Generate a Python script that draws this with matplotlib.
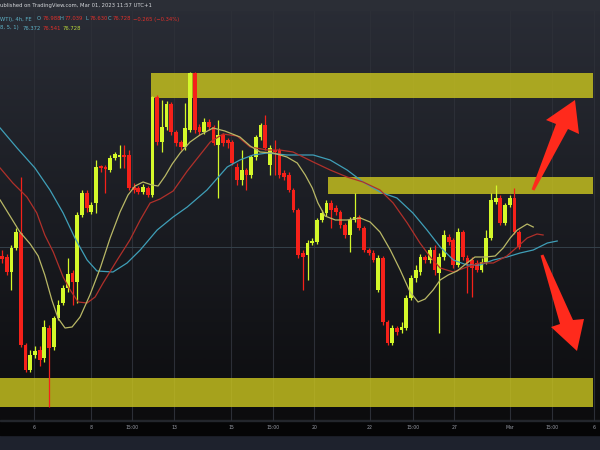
import numpy as np
import matplotlib.pyplot as plt
from matplotlib.patches import Rectangle, Polygon
from matplotlib.colors import LinearSegmentedColormap

# WTI crude, 4h candles (Feb 2023 -> Mar 01)
opens = [76.88, 76.86, 76.56, 77.04, 77.34, 75.10, 74.60, 74.90, 75.00, 74.84,
         75.44, 75.06, 75.64, 75.94, 76.24, 76.54, 76.36, 77.70, 78.14, 77.76,
         77.94, 78.66, 78.66, 78.60, 78.84, 78.86, 78.90, 78.90, 78.26, 78.24,
         78.16, 78.24, 78.10, 80.06, 79.16, 79.46, 79.92, 79.36, 79.16, 79.06,
         79.40, 80.54, 79.46, 79.36, 79.56, 79.46, 79.10, 79.30, 79.20, 79.16,
         78.66, 78.40, 78.60, 78.50, 78.86, 79.26, 79.50, 78.70, 79.00, 79.00,
         78.54, 78.50, 78.20, 77.80, 76.94, 76.90, 77.14, 77.16, 77.60, 77.74,
         77.94, 77.84, 77.76, 77.50, 77.30, 77.60, 77.66, 77.44, 77.00, 76.94,
         76.20, 76.84, 75.56, 75.14, 75.44, 75.40, 75.44, 76.04, 76.44, 76.56,
         76.86, 76.80, 77.00, 76.54, 76.86, 77.26, 77.20, 76.70, 77.36, 76.84,
         76.80, 76.74, 76.60, 76.76, 77.24, 77.96, 78.04, 77.54, 77.90, 78.04, 77.36]
highs = [77.00, 76.92, 77.10, 77.44, 78.46, 75.14, 75.00, 75.08, 75.08, 75.60,
         75.50, 75.68, 76.00, 76.30, 76.84, 76.60, 77.76, 78.20, 78.20, 77.96,
         78.80, 78.70, 78.70, 78.90, 78.96, 79.10, 79.10, 79.00, 78.34, 78.28,
         78.32, 78.28, 80.08, 80.10, 80.00, 79.98, 79.96, 79.40, 79.20, 79.94,
         80.56, 80.56, 79.52, 79.64, 79.62, 79.50, 79.60, 79.34, 79.24, 79.20,
         78.74, 79.00, 78.64, 78.90, 79.30, 79.54, 79.70, 79.10, 79.20, 79.04,
         78.60, 78.56, 78.24, 77.84, 77.00, 77.20, 77.24, 77.64, 77.80, 78.00,
         78.00, 77.90, 77.80, 77.54, 77.66, 78.14, 77.70, 77.48, 77.04, 77.00,
         76.90, 76.88, 75.60, 75.50, 75.48, 75.56, 76.10, 76.50, 76.70, 76.92,
         76.90, 77.06, 77.10, 76.94, 77.40, 77.32, 77.24, 77.44, 77.40, 76.90,
         76.86, 76.80, 76.84, 77.40, 78.14, 78.30, 78.10, 77.94, 78.10, 78.24, 77.40]
lows = [76.74, 76.50, 76.20, 77.00, 75.06, 74.56, 74.56, 74.84, 74.68, 74.76,
        73.86, 75.00, 75.60, 75.90, 76.16, 75.90, 75.94, 77.66, 77.76, 77.72,
        77.74, 78.56, 78.14, 78.56, 78.80, 78.64, 78.64, 78.20, 78.14, 78.12,
        78.12, 78.06, 78.06, 79.10, 78.96, 79.40, 79.30, 79.08, 79.00, 79.00,
        79.36, 79.34, 79.30, 79.32, 79.40, 79.10, 78.04, 79.08, 79.04, 78.70,
        78.30, 78.30, 78.20, 78.44, 78.80, 79.20, 79.00, 78.50, 78.50, 78.44,
        78.40, 78.16, 77.76, 76.84, 76.20, 76.40, 77.10, 77.12, 77.56, 77.68,
        77.44, 77.70, 77.44, 77.24, 76.96, 77.56, 77.40, 76.96, 76.90, 76.76,
        76.16, 75.50, 75.10, 75.10, 75.30, 75.34, 75.40, 76.00, 76.36, 76.50,
        76.74, 76.74, 76.50, 75.34, 76.80, 77.10, 76.64, 76.66, 76.80, 76.14,
        76.06, 76.56, 76.56, 76.72, 77.20, 77.92, 77.50, 77.50, 77.86, 77.32, 77.02]
closes = [76.82, 76.56, 77.04, 77.36, 75.10, 74.60, 74.90, 74.98, 74.80, 75.46,
          75.04, 75.64, 75.90, 76.24, 76.52, 76.36, 77.70, 78.14, 77.84, 77.90,
          78.66, 78.64, 78.62, 78.84, 78.92, 78.90, 78.86, 78.24, 78.20, 78.16,
          78.26, 78.10, 80.06, 79.16, 79.46, 79.92, 79.36, 79.14, 79.06, 79.44,
          80.54, 79.40, 79.36, 79.56, 79.46, 79.14, 79.30, 79.14, 79.14, 78.74,
          78.40, 78.60, 78.50, 78.86, 79.26, 79.50, 79.04, 79.04, 78.96, 78.50,
          78.46, 78.20, 77.80, 76.90, 76.86, 77.14, 77.16, 77.60, 77.74, 77.94,
          77.80, 77.76, 77.50, 77.30, 77.60, 77.66, 77.44, 77.00, 76.94, 76.80,
          76.84, 75.56, 75.14, 75.44, 75.36, 75.46, 76.04, 76.44, 76.60, 76.86,
          76.80, 77.00, 76.60, 76.86, 77.30, 77.16, 76.70, 77.36, 76.86, 76.74,
          76.64, 76.60, 76.76, 77.24, 78.00, 78.04, 77.54, 77.90, 78.04, 77.36, 77.06]

# moving averages, read at sample bars
ma_fast_x = [-0.4, 1.7, 3.8, 6.0, 7.7, 9.1, 10.6, 11.9, 13.4, 14.9, 16.6, 18.7, 20.9, 23.0,
             25.1, 26.8, 28.3, 30.0, 31.9, 33.2, 34.7, 36.2, 37.9, 40.0, 42.1, 44.9, 47.4,
             50.6, 52.8, 54.9, 57.7, 60.6, 62.8, 64.5, 66.0, 67.2, 68.7, 70.9, 73.4, 76.2,
             78.3, 80.4, 82.6, 84.7, 86.8, 88.5, 90.0, 91.7, 93.2, 94.9, 96.8, 98.9, 100.6,
             102.8, 104.9, 106.6, 108.1, 109.6, 111.7, 113.0]
ma_fast = [78.00, 77.68, 77.36, 77.12, 76.88, 76.50, 76.00, 75.64, 75.44, 75.46, 75.66, 76.10,
           76.64, 77.24, 77.76, 78.10, 78.28, 78.36, 78.30, 78.28, 78.48, 78.72, 78.94, 79.16,
           79.30, 79.44, 79.38, 79.26, 79.08, 78.96, 78.94, 78.86, 78.74, 78.50, 78.24, 77.94,
           77.68, 77.60, 77.60, 77.64, 77.56, 77.36, 77.00, 76.60, 76.16, 75.96, 76.02, 76.20,
           76.40, 76.50, 76.58, 76.74, 76.86, 76.86, 76.88, 77.04, 77.24, 77.40, 77.52, 77.46]
ma_mid_x = [-0.4, 2.3, 5.3, 7.4, 9.1, 10.9, 13.0, 14.5, 16.2, 18.1, 19.8, 21.5, 24.5, 27.2,
            29.4, 31.5, 33.6, 36.4, 39.4, 42.1, 44.3, 47.0, 50.0, 52.8, 56.4, 59.1, 61.9,
            66.2, 69.8, 73.4, 76.8, 80.4, 83.2, 86.2, 88.9, 91.1, 93.2, 96.0, 98.9, 101.7,
            104.5, 107.4, 109.6, 111.7, 113.8, 115.1]
ma_mid = [78.64, 78.34, 78.06, 77.74, 77.30, 76.96, 76.46, 76.20, 75.96, 75.94, 76.06, 76.34,
          76.80, 77.20, 77.60, 77.94, 78.02, 78.18, 78.58, 78.90, 79.16, 79.32, 79.28, 79.06,
          79.00, 79.00, 78.96, 78.76, 78.60, 78.46, 78.36, 78.20, 77.94, 77.54, 77.14, 76.86,
          76.64, 76.56, 76.66, 76.74, 76.74, 76.88, 77.06, 77.24, 77.32, 77.30]
ma_slow_x = [-0.4, 3.2, 7.0, 10.2, 13.0, 15.5, 18.1, 20.2, 23.6, 26.6, 29.4, 33.0, 36.4, 39.4,
             43.6, 47.9, 50.6, 53.4, 56.4, 60.6, 66.2, 69.8, 73.4, 76.8, 80.4, 84.0, 87.4,
             90.4, 93.2, 96.0, 98.9, 101.7, 104.5, 107.4, 110.2, 113.0, 116.0, 118.1]
ma_slow = [79.44, 79.04, 78.64, 78.20, 77.74, 77.24, 76.80, 76.58, 76.56, 76.74, 77.00, 77.40,
           77.66, 77.86, 78.20, 78.66, 78.80, 78.90, 78.94, 78.90, 78.90, 78.80, 78.60, 78.36,
           78.16, 78.04, 77.74, 77.40, 77.06, 76.80, 76.70, 76.70, 76.80, 76.86, 76.94, 77.00,
           77.14, 77.18]

# supply / demand zones
zone_lo = [80.04, 78.12, 73.86]
zone_hi = [80.54, 78.46, 74.44]
zone_start = [31.7, 69.4, -0.5]
zone_end = 125.7

tick_pos = [6.8, 18.9, 27.7, 36.6, 48.7, 57.7, 66.4, 78.3, 87.4, 96.2, 108.1, 117.0, 126.0]
tick_labels = ['6', '8', '15:00', '13', '15', '15:00', '20', '22', '15:00', '27', 'Mar', '15:00', '6']

W, H = 600, 450
plot_bottom = 421  # px from top

fig = plt.figure(figsize=(6, 4.5), dpi=100)
fig.patch.set_facecolor('#1e222d')

rect = [0, (H - plot_bottom) / H, 1, plot_bottom / H]
bg = fig.add_axes(rect, zorder=0)
grad = np.linspace(0, 1, 256).reshape(-1, 1)
cmap = LinearSegmentedColormap.from_list('bg', ['#2a2d36', '#1b1d23', '#0c0c0e'])
bg.imshow(grad, aspect='auto', cmap=cmap)
bg.axis('off')

ax = fig.add_axes(rect, zorder=1)
ax.set_facecolor('none')
ax.set_xlim(-0.43, 127.2)
ax.set_ylim(73.58, 82.0)
for s in ax.spines.values():
    s.set_visible(False)

for t in tick_pos:
    ax.axvline(t, color='#2c2f37', lw=0.8, zorder=1)
ax.axhline(closes[-1], color='#34414a', lw=0.7, zorder=1)

for lo, hi, st in zip(zone_lo, zone_hi, zone_start):
    ax.add_patch(Rectangle((st, lo), zone_end - st, hi - lo, facecolor='#c9c41f',
                           edgecolor='none', alpha=0.82, zorder=2))

x = np.arange(len(closes))
o = np.array(opens)
c = np.array(closes)
up = c >= o
cols = np.where(up, '#d4f82a', '#f5211a')
ax.vlines(x, lows, highs, colors=cols, lw=0.9, zorder=3)
body = np.maximum(np.abs(c - o), 0.03)
ax.bar(x, body, bottom=np.minimum(o, c), width=0.8, color=cols, zorder=3)

ax.plot(ma_slow_x, ma_slow, color='#3f9fb8', lw=0.9, zorder=4)
ax.plot(ma_mid_x, ma_mid, color='#b0302a', lw=0.9, zorder=4)
ax.plot(ma_fast_x, ma_fast, color='#b9b866', lw=0.9, zorder=4)

# red arrows, drawn in pixel space of the plot
def px(pts):
    return [(a / W, 1 - b / plot_bottom) for a, b in pts]

up_arrow = [(531.6, 189.4), (556, 124), (546, 120), (575, 100), (579, 134), (568, 129), (534.4, 190.6)]
down_arrow = [(540.6, 255.5), (560, 324), (551, 327), (577, 351), (584, 319), (573, 320), (543.4, 254.5)]
for shape in (up_arrow, down_arrow):
    ax.add_patch(Polygon(px(shape), closed=True, transform=ax.transAxes,
                         facecolor='#ff2a1c', edgecolor='none', zorder=5))

ax.set_yticks([])
ax.set_xticks(tick_pos, tick_labels)
ax.tick_params(axis='x', length=0, pad=3.2, labelsize=3.3, labelcolor='#9a9ea8')

# bottom bands
fig.patches.append(Rectangle((0, 15 / H), 1, (H - plot_bottom - 15) / H,
                             transform=fig.transFigure, color='#050506', zorder=0))
fig.patches.append(Rectangle((0, (H - plot_bottom) / H), 1, 1 / H,
                             transform=fig.transFigure, color='#23262c', zorder=0))
# header strip
ax.add_patch(Rectangle((0, 1 - 11 / plot_bottom), 1, 11 / plot_bottom, transform=ax.transAxes,
                       facecolor='#2b2e36', edgecolor='none', zorder=6))

fs = 3.8
def htext(xp, yp, s, col):
    fig.text(xp / W, 1 - yp / H, s, fontsize=fs, color=col, va='center', ha='left', zorder=7)

htext(0.5, 6, 'ublished on TradingView.com, Mar 01, 2023 11:57 UTC+1', '#d4d6da')
htext(0.5, 19, 'WTI), 4h, FE', '#5fb3c8')
htext(37, 19, 'O', '#5fb3c8')
htext(43, 19, '76.988', '#e0302a')
htext(60, 19, 'H', '#5fb3c8')
htext(65, 19, '77.039', '#e0302a')
htext(85, 19, 'L', '#5fb3c8')
htext(90, 19, '76.630', '#e0302a')
htext(108, 19, 'C', '#5fb3c8')
htext(113, 19, '76.728', '#e0302a')
htext(133, 19, '−0.265 (−0.34%)', '#e0302a')
htext(0.5, 28, '8, 5, 1)', '#5fb3c8')
htext(23, 28, '76.372', '#5fb3c8')
htext(43, 28, '76.541', '#e0302a')
htext(63, 28, '76.728', '#b9d63a')

fig.savefig('out.png', dpi=100, facecolor=fig.get_facecolor())
